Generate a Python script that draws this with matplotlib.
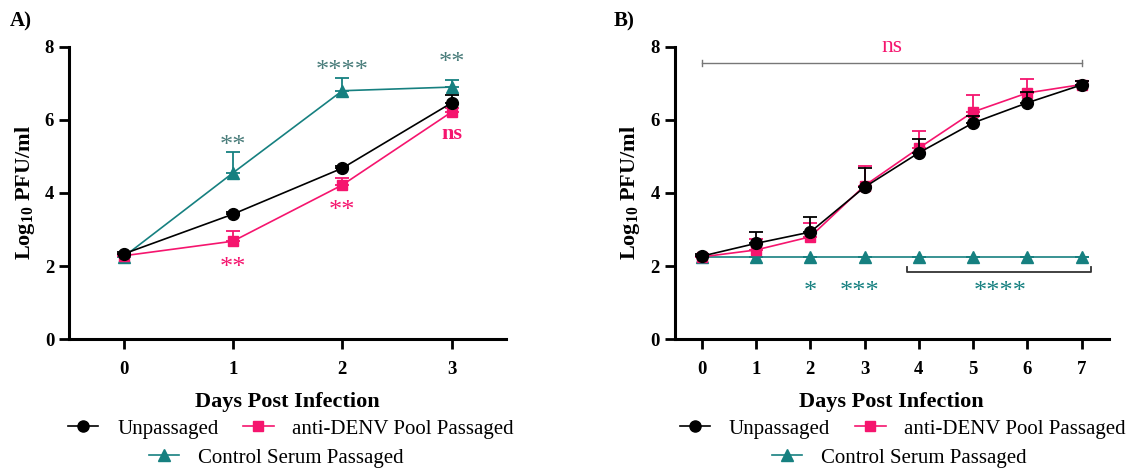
import matplotlib.pyplot as plt
from matplotlib.lines import Line2D
import numpy as np

plt.rcParams['font.family'] = ['Liberation Serif', 'DejaVu Serif']
plt.rcParams['mathtext.fontset'] = 'custom'
plt.rcParams['mathtext.rm'] = 'Liberation Serif'
plt.rcParams['mathtext.bf'] = 'Liberation Serif:bold'

# colours
BLACK = '#000000'
PINK = '#f5156e'
TEAL = '#168080'
TEAL_GREY = '#4a7d7b'

# panel A - 3 day growth
days_a = [0, 1, 2, 3]
unp_a = [2.33, 3.42, 4.68, 6.47]
unp_a_err = [0.05, 0.05, 0.05, 0.2]
anti_a = [2.28, 2.68, 4.22, 6.22]
anti_a_err = [0.05, 0.28, 0.18, 0.1]
ctrl_a = [2.25, 4.55, 6.8, 6.9]
ctrl_a_err = [0.05, 0.57, 0.35, 0.2]

# panel B - 7 day growth
days_b = [0, 1, 2, 3, 4, 5, 6, 7]
unp_b = [2.27, 2.62, 2.93, 4.16, 5.1, 5.92, 6.47, 6.96]
unp_b_err = [0.05, 0.31, 0.41, 0.52, 0.38, 0.2, 0.3, 0.1]
anti_b = [2.25, 2.44, 2.8, 4.2, 5.23, 6.22, 6.74, 6.97]
anti_b_err = [0.05, 0.3, 0.38, 0.54, 0.47, 0.46, 0.38, 0.1]
ctrl_b = [2.25, 2.25, 2.25, 2.25, 2.25, 2.25, 2.25, 2.25]
ctrl_b_err = [0, 0, 0, 0, 0, 0, 0, 0]

labels = ['Unpassaged', 'anti-DENV Pool Passaged', 'Control Serum Passaged']

fig = plt.figure(figsize=(11.28, 4.69), dpi=100)
axA = fig.add_axes([0.061, 0.277, 0.388, 0.623])
axB = fig.add_axes([0.598, 0.277, 0.385, 0.623])


def series(ax, x, y, err, color, marker, ms, z):
    y = np.array(y)
    err = np.array(err)
    ax.errorbar(x, y, yerr=[np.zeros_like(err), err], color=color,
                marker=marker, ms=ms, lw=1.2, elinewidth=1.3, capsize=5,
                capthick=1.3, zorder=z, clip_on=False)


def style(ax, days):
    ax.set_xlim(-0.5, days[-1] + 0.5)
    ax.set_ylim(0, 8)
    ax.set_yticks([0, 2, 4, 6, 8])
    ax.set_xticks(days)
    for s in ['top', 'right']:
        ax.spines[s].set_visible(False)
    ax.spines['left'].set_linewidth(2.2)
    ax.spines['bottom'].set_linewidth(2.2)
    ax.tick_params(axis='both', width=2, length=7, labelsize=13.5)
    ax.tick_params(axis='x', pad=9)
    for t in ax.get_xticklabels() + ax.get_yticklabels():
        t.set_fontweight('bold')
    ax.set_xlabel('Days Post Infection', fontsize=16, fontweight='bold', labelpad=10)
    ax.set_ylabel(r'Log$_{\mathbf{10}}$ PFU/ml', fontsize=16, fontweight='bold', labelpad=6)


handles = [
    Line2D([], [], color=BLACK, marker='o', ms=8, lw=1.2),
    Line2D([], [], color=PINK, marker='s', ms=7.5, lw=1.2),
    Line2D([], [], color=TEAL, marker='^', ms=8, lw=1.2),
]


def legend(cx1, cx2):
    leg_kw = dict(loc='center', frameon=False, fontsize=15, handlelength=1.45,
                  handletextpad=0.9, borderpad=0, borderaxespad=0)
    fig.legend(handles[:2], labels[:2], ncol=2, columnspacing=1.2,
               bbox_to_anchor=(cx1 / 1128, 1 - 429 / 469), **leg_kw)
    fig.legend(handles[2:], labels[2:],
               bbox_to_anchor=(cx2 / 1128, 1 - 458 / 469), **leg_kw)


# ---- panel A
series(axA, days_a, ctrl_a, ctrl_a_err, TEAL, '^', 8, 3)
series(axA, days_a, anti_a, anti_a_err, PINK, 's', 7.5, 4)
series(axA, days_a, unp_a, unp_a_err, BLACK, 'o', 8.5, 5)
style(axA, days_a)
legend(291, 276)

star_kw = dict(ha='center', va='center', fontsize=19)
axA.text(1, 5.3, '**', color=TEAL_GREY, **star_kw)
axA.text(2, 7.35, '****', color=TEAL_GREY, **star_kw)
axA.text(3, 7.55, '**', color=TEAL_GREY, **star_kw)
axA.text(1, 1.95, '**', color=PINK, **star_kw)
axA.text(2, 3.5, '**', color=PINK, **star_kw)
axA.text(3, 5.62, 'ns', color=PINK, ha='center', va='center', fontsize=16,
         fontweight='bold')

# ---- panel B
series(axB, days_b, ctrl_b, ctrl_b_err, TEAL, '^', 8, 3)
series(axB, days_b, anti_b, anti_b_err, PINK, 's', 7.5, 4)
series(axB, days_b, unp_b, unp_b_err, BLACK, 'o', 8.5, 5)
style(axB, days_b)
legend(903, 899)

# ns bracket across the top
axB.plot([0, 7], [7.56, 7.56], color='#777777', lw=1)
axB.plot([0, 0], [7.48, 7.64], color='#777777', lw=1)
axB.plot([7, 7], [7.48, 7.64], color='#777777', lw=1)
axB.text(3.5, 8.0, 'ns', color=PINK, ha='center', va='center', fontsize=17,
         clip_on=False)

# day 4-7 bracket under the control line
axB.plot([3.79, 3.79, 7.18, 7.18], [1.97, 1.83, 1.83, 1.97], color='#333333',
         lw=1.3, clip_on=False)
axB.text(2, 1.3, '*', color=TEAL, **star_kw)
axB.text(2.9, 1.3, '***', color=TEAL, **star_kw)
axB.text(5.5, 1.3, '****', color=TEAL, **star_kw)

fig.text(0.009, 0.955, 'A)', fontsize=15, fontweight='bold', va='center')
fig.text(0.544, 0.955, 'B)', fontsize=15, fontweight='bold', va='center')

fig.savefig('out.png', dpi=100)
